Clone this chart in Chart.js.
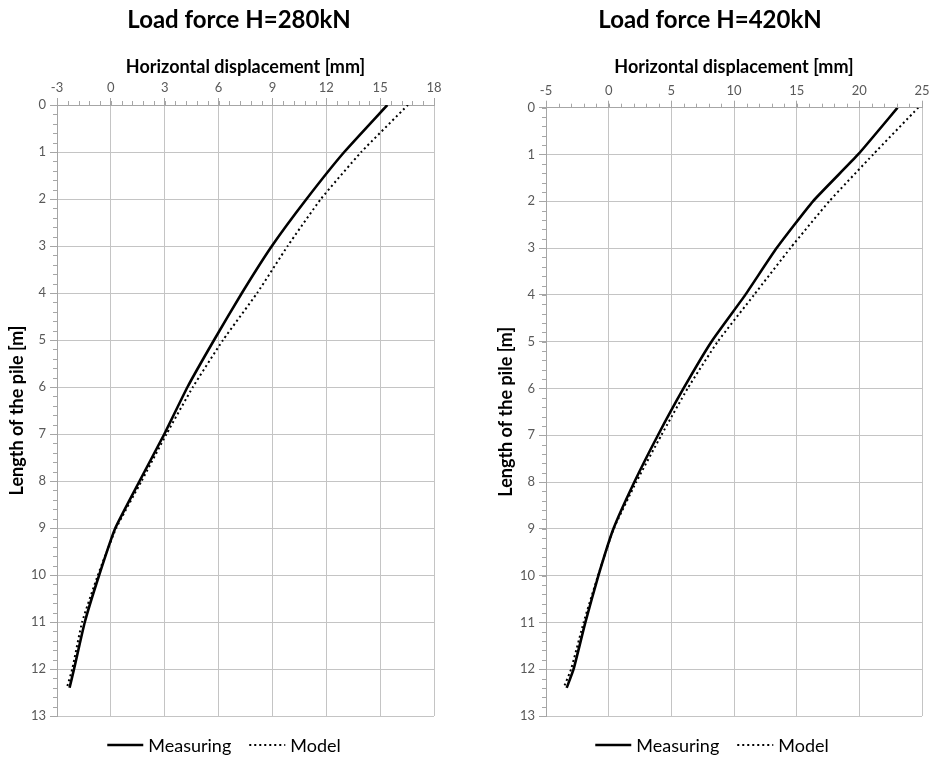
<!DOCTYPE html>
<html>
<head>
<meta charset="utf-8">
<script src="https://cdn.jsdelivr.net/npm/chart.js@4/dist/chart.umd.min.js"></script>
<style>
  body { margin: 0; background: #fff; }
  .wrap { position: absolute; top: 0; width: 466px; height: 757px; }
  #left { left: 0; }
  #right { left: 466px; }
</style>
</head>
<body>
<div class="wrap" id="left"><canvas id="chart280"></canvas></div>
<div class="wrap" id="right"><canvas id="chart420"></canvas></div>
<script>
// depth along the pile [m]
const depth = [0, 1, 2, 3, 4, 5, 6, 7, 8, 9, 10, 11, 12, 12.4];

// H = 280 kN, horizontal displacement [mm]
const measuring280 = [15.4, 13.0, 10.9, 8.97, 7.3, 5.75, 4.27, 2.98, 1.6, 0.25, -0.65, -1.45, -2.05, -2.3];
const model280     = [16.55, 13.95, 11.7, 9.85, 8.15, 6.25, 4.57, 3.1, 1.71, 0.3, -0.72, -1.6, -2.15, -2.45];

// H = 420 kN
const measuring420 = [23.05, 19.9, 16.3, 13.4, 10.9, 8.2, 5.97, 3.93, 2.05, 0.38, -0.82, -1.86, -2.8, -3.35];
const model420     = [24.7, 21.1, 17.6, 14.5, 11.6, 8.7, 6.3, 4.2, 2.2, 0.4, -0.85, -2.0, -3.0, -3.6];

const FONT = 'Lato, "Open Sans", sans-serif';
const GRID = '#c4c4c4';
const AXIS = '#a6a6a6';
const TICK_TEXT = '#595959';

// small minor tick marks like the spreadsheet axes
const minorTicks = {
    id: 'minorTicks',
    afterDraw(chart, args, opts) {
        const ctx = chart.ctx;
        const xs = chart.scales.x;
        const ys = chart.scales.y;
        ctx.save();
        ctx.strokeStyle = AXIS;
        ctx.lineWidth = 1;
        ctx.beginPath();
        for (let v = xs.min; v <= xs.max + 1e-9; v += opts.xStep) {
            const px = Math.round(xs.getPixelForValue(v)) + 0.5;
            ctx.moveTo(px, xs.bottom);
            ctx.lineTo(px, xs.bottom - 4);
        }
        for (let v = ys.min; v <= ys.max + 1e-9; v += opts.yStep) {
            const py = Math.round(ys.getPixelForValue(v)) + 0.5;
            ctx.moveTo(ys.right, py);
            ctx.lineTo(ys.right - 4, py);
        }
        ctx.stroke();
        ctx.restore();
    }
};

// big heading on top and a line-sample legend at the bottom
const heading = {
    id: 'heading',
    afterDraw(chart, args, opts) {
        const ctx = chart.ctx;
        ctx.save();
        ctx.fillStyle = '#000';
        ctx.textAlign = 'center';
        ctx.textBaseline = 'alphabetic';
        ctx.font = 'bold 24px ' + FONT;
        ctx.fillText(opts.text, opts.titleX, 28);

        // legend
        ctx.font = '18px ' + FONT;
        ctx.textAlign = 'left';
        ctx.textBaseline = 'middle';
        const sample = 36, textGap = 5, itemGap = 18;
        const items = chart.data.datasets.map(ds => ({ ds, w: ctx.measureText(ds.label).width }));
        let total = items.reduce((s, it) => s + sample + textGap + it.w, 0) + itemGap * (items.length - 1);
        let x = opts.legendX - total / 2;
        const y = opts.legendY;
        items.forEach(it => {
            ctx.beginPath();
            ctx.strokeStyle = it.ds.borderColor;
            ctx.lineWidth = it.ds.borderWidth;
            ctx.setLineDash(it.ds.borderDash || []);
            ctx.moveTo(x, y);
            ctx.lineTo(x + sample, y);
            ctx.stroke();
            ctx.setLineDash([]);
            ctx.fillText(it.ds.label, x + sample + textGap, y + 1);
            x += sample + textGap + it.w + itemGap;
        });
        ctx.restore();
    }
};

function makeChart(id, title, measuring, model, xMin, xMax, xStep, xMinor, yWidth, padRight, axisH, titleX, legendX) {
    const toPoints = arr => arr.map((v, i) => ({ x: v, y: depth[i] }));
    return new Chart(document.getElementById(id), {
        type: 'scatter',
        data: {
            datasets: [{
                label: 'Measuring',
                data: toPoints(measuring),
                showLine: true,
                tension: 0.15,
                borderColor: '#000',
                backgroundColor: '#000',
                borderWidth: 2.6,
                pointRadius: 0
            }, {
                label: 'Model',
                data: toPoints(model),
                showLine: true,
                tension: 0.15,
                borderColor: '#000',
                backgroundColor: '#000',
                borderWidth: 2,
                borderDash: [2, 3],
                pointRadius: 0
            }]
        },
        options: {
            responsive: true,
            maintainAspectRatio: false,
            animation: false,
            layout: { padding: { left: 0, right: padRight, top: 44, bottom: 41 } },
            scales: {
                x: {
                    position: 'top',
                    min: xMin,
                    max: xMax,
                    afterFit: s => { s.height = axisH; },
                    ticks: { stepSize: xStep, color: TICK_TEXT, font: { family: FONT, size: 13 }, padding: 2 },
                    grid: { color: GRID, tickColor: AXIS, tickLength: 7 },
                    border: { color: AXIS },
                    title: {
                        display: true,
                        text: 'Horizontal displacement [mm]',
                        color: '#000',
                        font: { family: FONT, size: 18, weight: 'bold' },
                        padding: { top: 12, bottom: 0 }
                    }
                },
                y: {
                    reverse: true,
                    min: 0,
                    max: 13,
                    afterFit: s => { s.width = yWidth; },
                    ticks: { stepSize: 1, color: TICK_TEXT, font: { family: FONT, size: 13 }, padding: 4 },
                    grid: { color: GRID, tickColor: AXIS, tickLength: 7 },
                    border: { color: AXIS },
                    title: {
                        display: true,
                        text: 'Length of the pile [m]',
                        color: '#000',
                        font: { family: FONT, size: 18, weight: 'bold' },
                        padding: { top: yWidth - 51, bottom: 0 }
                    }
                }
            },
            plugins: {
                minorTicks: { xStep: xMinor, yStep: 0.2 },
                heading: { text: title, titleX: titleX, legendX: legendX, legendY: 745 },
                title: { display: false },
                legend: { display: false },
                tooltip: { enabled: false }
            }
        },
        plugins: [minorTicks, heading]
    });
}

makeChart('chart280', 'Load force H=280kN', measuring280, model280, -3, 18, 3, 0.6, 57, 32, 61, 239, 224);
makeChart('chart420', 'Load force H=420kN', measuring420, model420, -5, 25, 5, 1, 80, 10, 63.7, 244, 246);
</script>
</body>
</html>
